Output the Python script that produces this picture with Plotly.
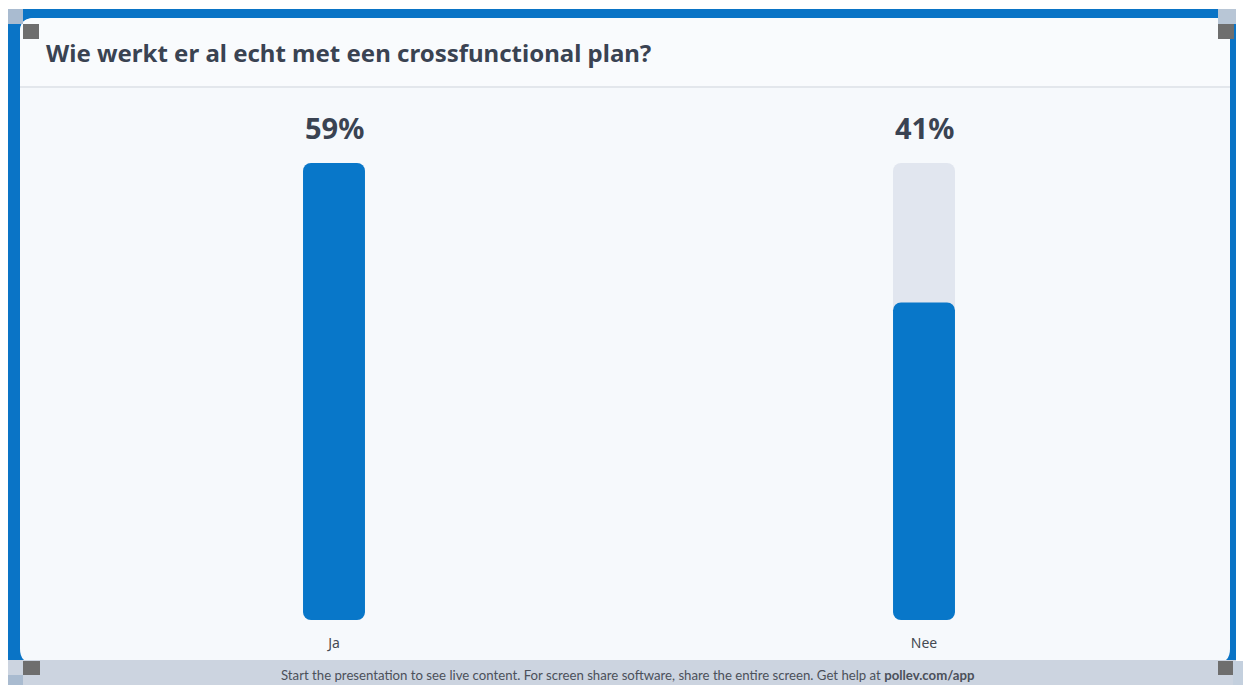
import plotly.graph_objects as go

W, H = 1243, 685

# ---- data ----
title_text = "Wie werkt er al echt met een crossfunctional plan?"
categories = ["Ja", "Nee"]
percentages = [59, 41]
footer_text = ("Start the presentation to see live content. For screen share software, "
               "share the entire screen. Get help at <b>pollev.com/app</b>")

BLUE = "#0877c9"
TRACK = "#e1e6ef"
TEXT = "#3a4352"
vmax = max(percentages)


def fx(px):
    return px / W


def fy(py):
    return 1 - py / H


fig = go.Figure()

# gray track (full height)
fig.add_trace(go.Bar(x=categories, y=[vmax] * len(categories), base=0,
                     marker=dict(color=TRACK, cornerradius=8, line=dict(width=0)),
                     width=0.105, hoverinfo="skip", showlegend=False))
# blue value bars
fig.add_trace(go.Bar(x=categories, y=percentages, base=0,
                     marker=dict(color=BLUE, cornerradius=8, line=dict(width=0)),
                     width=0.105, showlegend=False))

shapes = []


def rect(x0, y0, x1, y1, color, layer="below"):
    shapes.append(dict(type="rect", xref="paper", yref="paper",
                       x0=fx(x0), x1=fx(x1), y0=fy(y1), y1=fy(y0),
                       fillcolor=color, line=dict(width=0), layer=layer))


def rrect(x0, y0, x1, y1, r, color, layer="below"):
    X0, X1 = fx(x0), fx(x1)
    Y0, Y1 = fy(y0), fy(y1)
    rx, ry = r / W, r / H
    path = (f"M {X0+rx},{Y0} L {X1-rx},{Y0} Q {X1},{Y0} {X1},{Y0-ry} "
            f"L {X1},{Y1+ry} Q {X1},{Y1} {X1-rx},{Y1} "
            f"L {X0+rx},{Y1} Q {X0},{Y1} {X0},{Y1+ry} "
            f"L {X0},{Y0-ry} Q {X0},{Y0} {X0+rx},{Y0} Z")
    shapes.append(dict(type="path", xref="paper", yref="paper", path=path,
                       fillcolor=color, line=dict(width=0), layer=layer))


rect(8, 9, 1236, 672, "#0a74c6")
rrect(20, 18, 1230, 663, 14, "#f6f9fc")
rrect(20, 18, 1230, 88, 14, "#f9fbfd")
rect(20, 40, 1230, 86, "#f9fbfd")
rect(20, 86, 1230, 88, "#e3e7ec")
rect(8, 660, 1236, 685, "#ccd4e0")
rect(8, 9, 23, 24, "#a9bbd0")
rect(23, 24, 39, 39, "#6e6e6e")
rect(1218, 9, 1236, 24, "#b8c6d6")
rect(1218, 24, 1234, 39, "#6e6e6e")
rect(23, 661, 40, 675, "#6e6e6e")
rect(8, 675, 23, 685, "#a9bbd0")
rect(1218, 661, 1233, 675, "#6e6e6e")
rect(1233, 661, 1243, 685, "#c4d0de")

annotations = [
    dict(text=f"<b>{title_text}</b>", xref="paper", yref="paper",
         x=fx(44), y=fy(52), xanchor="left", yanchor="middle", showarrow=False,
         font=dict(family="Noto Sans, sans-serif", size=24, color=TEXT)),
    dict(text=footer_text, xref="paper", yref="paper",
         x=fx(628), y=fy(675), xanchor="center", yanchor="middle", showarrow=False,
         font=dict(family="Lato, sans-serif", size=13.2, color="#4b505a")),
]
for c, v in zip(categories, percentages):
    annotations.append(dict(text=f"<b>{v}%</b>", x=c, y=vmax, xref="x", yref="y",
                            xanchor="center", yanchor="middle", yshift=35,
                            showarrow=False,
                            font=dict(family="Noto Sans, sans-serif", size=29, color=TEXT)))

fig.update_layout(
    width=W, height=H,
    margin=dict(l=0, r=0, t=0, b=0),
    paper_bgcolor="#ffffff",
    plot_bgcolor="rgba(0,0,0,0)",
    barmode="overlay",
    shapes=shapes,
    annotations=annotations,
    xaxis=dict(domain=[fx(39), fx(1219)], range=[-0.5, 1.5], showgrid=False,
               zeroline=False, showline=False, ticks="", ticklabelstandoff=13,
               tickfont=dict(family="Noto Sans, sans-serif", size=14, color="#454a52")),
    yaxis=dict(domain=[fy(620), fy(163)], range=[0, vmax], showgrid=False,
               zeroline=False, showline=False, showticklabels=False, ticks=""),
)

fig.write_html("out.html")
